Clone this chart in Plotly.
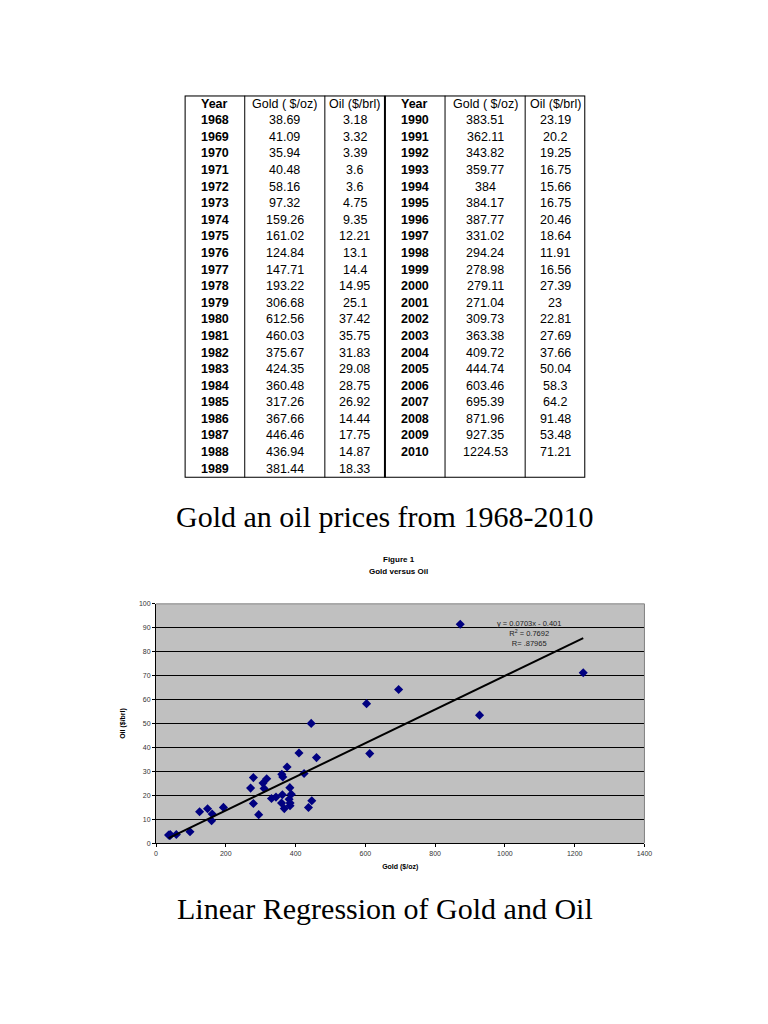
import numpy as np
import plotly.graph_objects as go

years_a = [1968, 1969, 1970, 1971, 1972, 1973, 1974, 1975, 1976, 1977, 1978,
           1979, 1980, 1981, 1982, 1983, 1984, 1985, 1986, 1987, 1988, 1989]
gold_a = [38.69, 41.09, 35.94, 40.48, 58.16, 97.32, 159.26, 161.02, 124.84, 147.71, 193.22,
          306.68, 612.56, 460.03, 375.67, 424.35, 360.48, 317.26, 367.66, 446.46, 436.94, 381.44]
oil_a = [3.18, 3.32, 3.39, 3.6, 3.6, 4.75, 9.35, 12.21, 13.1, 14.4, 14.95,
         25.1, 37.42, 35.75, 31.83, 29.08, 28.75, 26.92, 14.44, 17.75, 14.87, 18.33]

years_b = [1990, 1991, 1992, 1993, 1994, 1995, 1996, 1997, 1998, 1999, 2000,
           2001, 2002, 2003, 2004, 2005, 2006, 2007, 2008, 2009, 2010]
gold_b = ["383.51", "362.11", "343.82", "359.77", "384", "384.17", "387.77", "331.02", "294.24", "278.98", "279.11",
          "271.04", "309.73", "363.38", "409.72", "444.74", "603.46", "695.39", "871.96", "927.35", "1224.53"]
oil_b = ["23.19", "20.2", "19.25", "16.75", "15.66", "16.75", "20.46", "18.64", "11.91", "16.56", "27.39",
         "23", "22.81", "27.69", "37.66", "50.04", "58.3", "64.2", "91.48", "53.48", "71.21"]

headers = ["Year", "Gold ( $/oz)", "Oil ($/brl)", "Year", "Gold ( $/oz)", "Oil ($/brl)"]

slope = 0.0703
intercept = -0.401
eq_lines = ["y = 0.0703x - 0.401", "R<sup>2</sup> = 0.7692", "R= .87965"]

gold_all = gold_a + [float(v) for v in gold_b]
oil_all = oil_a + [float(v) for v in oil_b]

# page body has an 8px margin, so the figure is a bit smaller and positions shift
OFF = 8
W, H = 752, 1004


def px(x):
    return (x - OFF) / W


def py(y):
    return 1 - (y - OFF) / H


fig = go.Figure()

# scatter + trendline
fig.add_trace(go.Scatter(x=gold_all, y=oil_all, mode="markers",
                         marker=dict(symbol="diamond", color="#000080", size=7),
                         xaxis="x", yaxis="y", showlegend=False))
tx = np.array([min(gold_all), max(gold_all)])
fig.add_trace(go.Scatter(x=tx, y=slope * tx + intercept, mode="lines",
                         line=dict(color="black", width=2),
                         xaxis="x", yaxis="y", showlegend=False))

# table: column widths in units, rows as y index
col_w = [3, 4, 3, 3, 4, 3]
edges = np.concatenate([[0], np.cumsum(col_w)])
centers = (edges[:-1] + edges[1:]) / 2
n_rows = len(years_a) + 1

anns = []
tf = dict(family="Liberation Sans, Arial", size=12.5, color="black")
for c, h in enumerate(headers):
    anns.append(dict(x=centers[c], y=0, text="<b>%s</b>" % h if c in (0, 3) else h,
                     xref="x2", yref="y2", showarrow=False, font=tf,
                     xanchor="center", yanchor="middle"))
cols = [[str(y) for y in years_a], [str(g) for g in gold_a], [str(o) for o in oil_a],
        [str(y) for y in years_b], gold_b, oil_b]
for c, col in enumerate(cols):
    for r, v in enumerate(col):
        txt = "<b>%s</b>" % v if c in (0, 3) else v
        anns.append(dict(x=centers[c], y=r + 1, text=txt, xref="x2", yref="y2",
                         showarrow=False, font=tf, xanchor="center", yanchor="middle"))

shapes = [dict(type="rect", xref="x2", yref="y2", x0=0, x1=edges[-1], y0=-0.5, y1=n_rows - 0.45,
               fillcolor="white", layer="below", line=dict(width=0)),
          dict(type="rect", xref="x2", yref="y2", x0=0, x1=edges[-1], y0=-0.5, y1=n_rows - 0.45,
               line=dict(color="black", width=2))]
for i, e in enumerate(edges[1:-1]):
    shapes.append(dict(type="line", xref="x2", yref="y2", x0=e, x1=e, y0=-0.5, y1=n_rows - 0.45,
                       line=dict(color="black", width=2 if i == 2 else 1)))

# plot border (top/right gray)
shapes.append(dict(type="line", xref="x domain", yref="y domain", x0=0, x1=1, y0=1, y1=1,
                   line=dict(color="#808080", width=1)))
shapes.append(dict(type="line", xref="x domain", yref="y domain", x0=1, x1=1, y0=0, y1=1,
                   line=dict(color="#808080", width=1)))

# chart titles and equation
small = dict(family="Liberation Sans, Arial", size=8, color="black")
anns.append(dict(x=px(402), y=py(559), xref="paper", yref="paper", showarrow=False,
                 text="<b>Figure 1</b>", font=small, xanchor="center", yanchor="middle"))
anns.append(dict(x=px(402), y=py(571), xref="paper", yref="paper", showarrow=False,
                 text="<b>Gold versus Oil</b>", font=small, xanchor="center", yanchor="middle"))
anns.append(dict(x=1069, y=94.6, xref="x", yref="y", showarrow=False,
                 xanchor="center", yanchor="top",
                 text="<br>".join(eq_lines),
                 font=dict(family="Liberation Sans, Arial", size=7.5, color="#222")))

# page captions
cap = dict(family="Liberation Serif, Times New Roman", size=30, color="black")
anns.append(dict(x=px(388), y=py(516), xref="paper", yref="paper", showarrow=False,
                 text="Gold an oil prices from 1968-2010", font=cap,
                 xanchor="center", yanchor="middle"))
anns.append(dict(x=px(388), y=py(911), xref="paper", yref="paper", showarrow=False,
                 text="Linear Regression of Gold and Oil", font=cap,
                 xanchor="center", yanchor="middle"))

tick_font = dict(family="Liberation Sans, Arial", size=7, color="#333")
title_font = dict(family="Liberation Sans, Arial", size=7, color="black")
fig.update_layout(
    width=W, height=H, margin=dict(l=0, r=0, t=0, b=0),
    paper_bgcolor="white", plot_bgcolor="#c0c0c0",
    xaxis=dict(domain=[px(156), px(651)], range=[0, 1400], dtick=200, anchor="y",
               showgrid=False, zeroline=False, showline=True, linecolor="black", linewidth=1,
               ticks="outside", ticklen=3, tickcolor="black", tickfont=tick_font,
               title=dict(text="<b>Gold ($/oz)</b>", font=title_font, standoff=8)),
    yaxis=dict(domain=[py(845), py(604)], range=[0, 100], dtick=10, anchor="x",
               showgrid=True, gridcolor="black", gridwidth=1, zeroline=False,
               showline=True, linecolor="black", linewidth=1,
               ticks="outside", ticklen=3, tickcolor="black", tickfont=tick_font,
               title=dict(text="<b>Oil ($/brl)</b>", font=title_font, standoff=12)),
    xaxis2=dict(domain=[px(185), px(591)], range=[0, edges[-1]], visible=False,
                anchor="y2", fixedrange=True),
    yaxis2=dict(domain=[py(477), py(92)], range=[n_rows - 0.45, -0.5], visible=False,
                anchor="x2", fixedrange=True),
    annotations=anns, shapes=shapes,
)

fig.write_html("out.html")
